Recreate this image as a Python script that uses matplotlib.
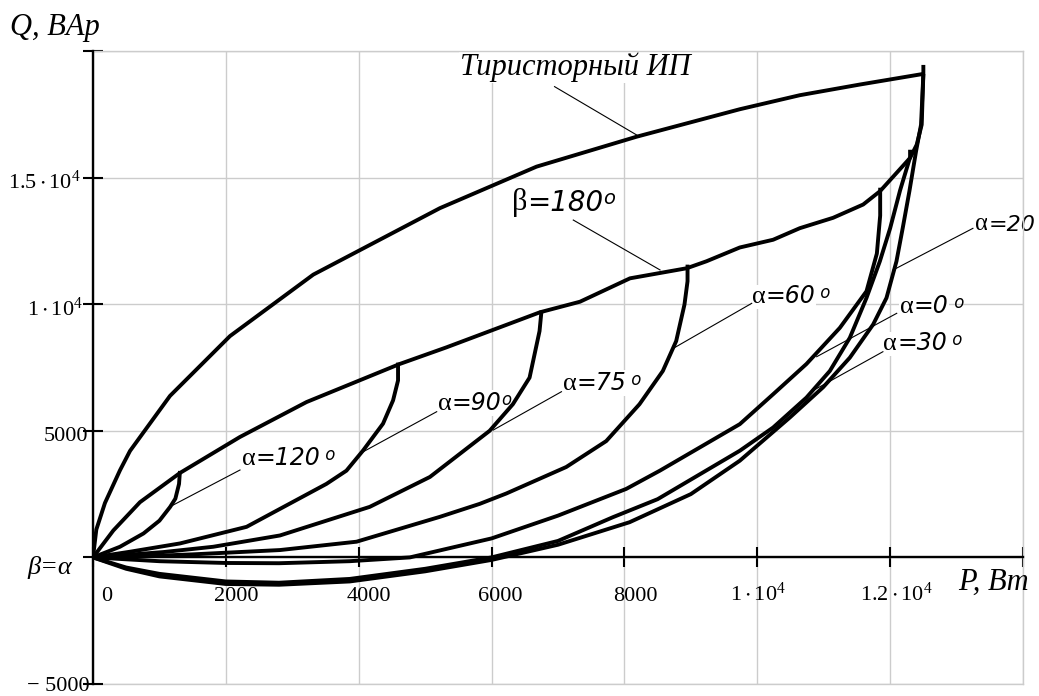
import matplotlib
matplotlib.use("Agg")
import matplotlib.pyplot as plt

# ---------------- data (P, W ; Q, VAr) ----------------
P_thyr = [0, 50, 180, 406, 557, 1159, 2062, 3316, 5222, 6677, 8182, 9737, 10640, 11543, 12496]
Q_thyr = [0, 1100, 2150, 3440, 4205, 6378, 8740, 11168, 13793, 15433, 16614, 17700, 18254, 18675, 19094]

P_b180 = [0, 306, 707, 1309, 2212, 3215, 4617, 5319, 6727, 7331, 8084, 8938, 9235, 9737, 10239, 10640,
          11142, 11594, 11849, 12300, 12400, 12475, 12500]
Q_b180 = [0, 1063, 2180, 3335, 4756, 6136, 7639, 8294, 9680, 10098, 11022, 11420, 11695, 12240, 12546, 13002,
          13413, 13937, 14466, 15775, 16300, 17090, 19094]

P_a120 = [0, 406, 760, 1000, 1160, 1240, 1295, 1309]
Q_a120 = [0, 420, 945, 1450, 1990, 2320, 2900, 3414]

P_a90 = [0, 557, 1309, 2312, 3514, 3815, 4065, 4366, 4517, 4592, 4592]
Q_a90 = [0, 224, 551, 1207, 2903, 3425, 4220, 5282, 6201, 6988, 7693]

P_a75 = [0, 1058, 1810, 2814, 4166, 5072, 5971, 6321, 6572, 6722, 6752]
Q_a75 = [0, 210, 420, 866, 1996, 3177, 5000, 6051, 7100, 8937, 9752]

P_a60 = [0, 700, 1500, 2814, 3967, 5222, 5822, 6221, 7124, 7726, 8227, 8578, 8779, 8904, 8950, 8950]
Q_a60 = [0, 40, 120, 290, 620, 1602, 2115, 2523, 3570, 4594, 6051, 7362, 8543, 9987, 10906, 11562]

P_a0 = [0, 1000, 2000, 2800, 3865, 4770, 6000, 7000, 8027, 8533, 9737, 10239, 10740, 11243, 11644,
        11800, 11850, 11850]
Q_a0 = [0, -150, -220, -230, -150, 0, 750, 1650, 2705, 3425, 5263, 6445, 7639, 9067, 10512,
        12000, 13500, 14600]

P_a30 = [0, 500, 1000, 2000, 2800, 3865, 5000, 6000, 7000, 7826, 8500, 9737, 10239, 10740, 11092,
         11393, 11644, 11845, 12000, 12150, 12300, 12300]
Q_a30 = [0, -400, -650, -950, -1000, -850, -450, 0, 650, 1587, 2300, 4213, 5131, 6312, 7362,
         8674, 10249, 11693, 13000, 14500, 15800, 16100]

P_a20 = [0, 500, 1000, 2000, 2800, 3865, 5000, 6000, 7000, 8078, 9000, 9737, 10490, 10991, 11393,
         11744, 11945, 12095, 12190, 12290, 12390, 12465, 12500, 12500]
Q_a20 = [0, -450, -750, -1050, -1080, -950, -550, -100, 500, 1390, 2500, 3819, 5525, 6720, 7888,
         9200, 10249, 11693, 13016, 14464, 16040, 17090, 19094, 19450]

x_ticks = [0, 2000, 4000, 6000, 8000, 10000, 12000, 14000]
x_tick_labels = ['0', '2000', '4000', '6000', '8000',
                 r'$\mathregular{1\cdot10^4}$', r'$\mathregular{1.2\cdot10^4}$']
y_ticks = [-5000, 0, 5000, 10000, 15000, 20000]
y_tick_labels = ['\u2212 5000', 'β=α', '5000',
                 r'$\mathregular{1\cdot10^4}$', r'$\mathregular{1.5\cdot10^4}$']

# ---------------- figure ----------------
plt.rcParams['font.family'] = ['Liberation Serif', 'DejaVu Serif']
plt.rcParams['mathtext.fontset'] = 'custom'
plt.rcParams['mathtext.rm'] = 'Liberation Serif'
plt.rcParams['mathtext.it'] = 'Liberation Serif:italic'

fig = plt.figure(figsize=(10.39, 6.96), dpi=100)
ax = fig.add_axes([93 / 1039, 12 / 696, 930 / 1039, 633 / 696])
ax.set_xlim(0, 14000)
ax.set_ylim(-5000, 20000)

GRID = '#cccccc'
ax.set_xticks(x_ticks)
ax.set_yticks(y_ticks)
ax.grid(True, color=GRID, lw=1.0, zorder=0.5)
ax.set_axisbelow(True)
ax.spines['left'].set_position(('data', 0))
ax.spines['bottom'].set_position(('data', 0))
for s in ('left', 'bottom'):
    ax.spines[s].set_linewidth(1.7)
    ax.spines[s].set_zorder(2.8)
for s in ('top', 'right'):
    ax.spines[s].set_color(GRID)
    ax.spines[s].set_linewidth(1.0)
ax.axhline(-5000, color=GRID, lw=1.0, clip_on=False, zorder=0.5)
ax.tick_params(direction='inout', length=14, width=1.5, labelbottom=False, labelleft=False)

LW = 2.8
curves = [(P_thyr, Q_thyr), (P_b180, Q_b180), (P_a120, Q_a120), (P_a90, Q_a90),
          (P_a75, Q_a75), (P_a60, Q_a60), (P_a0, Q_a0), (P_a30, Q_a30), (P_a20, Q_a20)]
for px, qy in curves:
    ax.plot(px, qy, color='black', lw=LW, solid_joinstyle='round', solid_capstyle='butt', zorder=3)

# ---------------- tick labels ----------------
TFS = 16
x_offsets = [210, 150, 150, 130, 160, 15, 90]
for xv, lab, dx in zip(x_ticks, x_tick_labels, x_offsets):
    ax.text(xv + dx, -1720, lab, ha='center', va='baseline', fontsize=TFS, clip_on=False)

# (right edge x, vertical centre y) of each y tick label
y_label_pos = [(-45, -5080), (-320, -380), (-75, 4790), (-160, 9800), (-190, 14800)]
for (xx, yy), lab in zip(y_label_pos, y_tick_labels):
    if lab == 'β=α':
        ax.text(xx, yy, lab, ha='right', va='center', fontsize=19, style='italic', clip_on=False)
    else:
        ax.text(xx, yy, lab, ha='right', va='center', fontsize=TFS, clip_on=False)

# axis titles
ax.text(-1250, 20650, 'Q, BAp', ha='left', va='baseline', fontsize=22, style='italic', clip_on=False)
ax.text(13025, -1290, 'P, Bm', ha='left', va='baseline', fontsize=22, style='italic', clip_on=False)

# ---------------- curve labels ----------------
SANS = ['DejaVu Sans']


def label(x, y, greek, rest, sup, fs, sup_gap=''):
    t1 = ax.text(x, y, greek, ha='left', va='baseline', fontsize=fs + 2,
                 family=['Liberation Serif'], zorder=2.5,
                 bbox=dict(facecolor='white', edgecolor='none', pad=0.5))
    t2 = ax.annotate(rest, xy=(1, 0), xycoords=t1, ha='left', va='bottom', fontsize=fs,
                     family=SANS, style='italic', zorder=2.5,
                     bbox=dict(facecolor='white', edgecolor='none', pad=0.5))
    if sup:
        ax.annotate(sup_gap + 'o', xy=(1, 1), xycoords=t2, ha='left', va='top', fontsize=fs * 0.7,
                    family=SANS, style='italic', zorder=2.5)


def leader(x0, y0, x1, y1):
    ax.plot([x0, x1], [y0, y1], color='black', lw=0.8, zorder=2.6)


ax.text(5525, 19050, 'Тиристорный ИП', ha='left', va='baseline', fontsize=22, style='italic',
        zorder=2.5, bbox=dict(facecolor='white', edgecolor='none', pad=0.5))
leader(6948, 18593, 8227, 16617)

label(6303, 13719, 'β', '=180', True, 20)
leader(7230, 13324, 8536, 11353)

label(2238, 3649, 'α', '=120', True, 17, ' ')
leader(2213, 3452, 1159, 2002)

label(5194, 5821, 'α', '=90', True, 17, '')
leader(5174, 5754, 4069, 4174)

label(7075, 6611, 'α', '=75', True, 17, ' ')
leader(7052, 6544, 6026, 5031)

label(9916, 10058, 'α', '=60', True, 17, ' ')
leader(9916, 10034, 8736, 8257)

label(13278, 12929, 'α', '=20', False, 16)
leader(13246, 12996, 12043, 11350)

label(12149, 9640, 'α', '=0', True, 17, ' ')
leader(12099, 9640, 10894, 7926)

label(11897, 8190, 'α', '=30', True, 17, ' ')
leader(11891, 8123, 10863, 6624)

fig.savefig('out.png', dpi=100, facecolor='white')
